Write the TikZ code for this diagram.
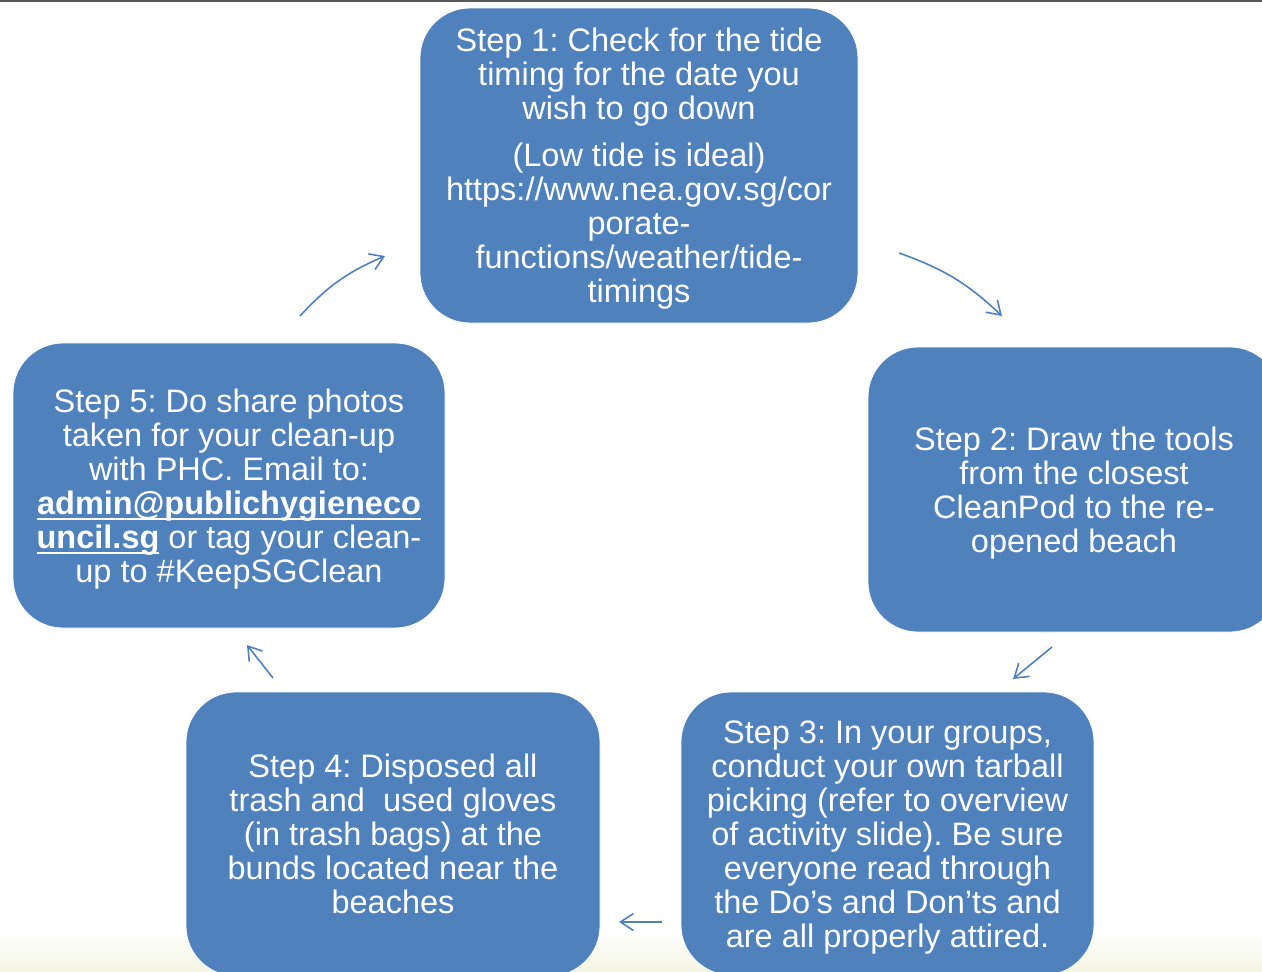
\documentclass[tikz,border=0pt]{standalone}
\usepackage{fontspec}
\setmainfont{Liberation Sans}
\usetikzlibrary{arrows.meta}
\definecolor{stepblue}{RGB}{79,129,189}
\definecolor{slidefoot}{RGB}{244,246,226}
\newcommand{\mailul}[1]{\setbox0=\hbox{#1}\leavevmode\rlap{\rule[-6pt]{\wd0}{2.2pt}}\box0\relax}
\newcommand{\topstrut}{\rule{0pt}{30pt}}
\frenchspacing

\begin{document}
\begin{tikzpicture}[x=1pt,y=-1pt]
    \tikzstyle{stepbox}=[fill=stepblue,draw=white,line width=0.8pt,rounded corners=50pt,text=white,align=center,inner sep=0pt,
        font=\fontsize{32.5}{34}\selectfont,execute at end node={\rule[-7pt]{0pt}{7pt}}]
    \tikzstyle{fwd}=[draw=stepblue,line width=1.6pt,-{Straight Barb[length=13pt,width=17pt]}]

    \useasboundingbox (0,0) rectangle (1262,972);
    \shade[top color=white,bottom color=slidefoot] (0,930) rectangle (1262,972);
    \draw[gray!70!black,line width=1.6pt] (0,0.8) -- (1262,0.8);

    \node[stepbox,minimum width=438pt,minimum height=315pt] (s1) at (639,165.5)
        {\topstrut Step 1: Check for the tide\\ timing for the date you\\ wish to go down\\[13pt]
         (Low tide is ideal)\\ https://www.nea.gov.sg/cor\\ porate-\\ functions/weather/tide-\\ timings};
    \node[stepbox,minimum width=412pt,minimum height=285pt] (s2) at (1074,489.5)
        {\topstrut Step 2: Draw the tools\\ from the closest\\ CleanPod to the re-\\ opened beach};
    \node[stepbox,minimum width=413pt,minimum height=283pt] (s3) at (887.5,833.5)
        {\topstrut Step 3: In your groups,\\ conduct your own tarball\\ picking (refer to overview\\ of activity slide). Be sure\\ everyone read through\\ the Do’s and Don’ts and\\ are all properly attired.};
    \node[stepbox,minimum width=414pt,minimum height=284pt] (s4) at (393,834)
        {\topstrut Step 4: Disposed all\\ trash and~ used gloves\\ (in trash bags) at the\\ bunds located near the\\ beaches};
    \node[stepbox,minimum width=432pt,minimum height=285pt] (s5) at (229,485.5)
        {\topstrut Step 5: Do share photos\\ taken for your clean-up\\ with PHC. Email to:\\ \mailul{\textbf{admin@publichygieneco}}\\ \mailul{\textbf{uncil.sg}} or tag your clean-\\ up to \#KeepSGClean};

    % arrow ends
    \coordinate (a1s) at (300,316);
    \coordinate (a1e) at (385,256);
    \coordinate (a2s) at (899,253);
    \coordinate (a2e) at (1002,316);
    \coordinate (a3s) at (1052,647);
    \coordinate (a3e) at (1013,679);
    \coordinate (a4s) at (662,922);
    \coordinate (a4e) at (619,922);
    \coordinate (a5s) at (273,678);
    \coordinate (a5e) at (247,645);

   \draw [fwd] (a1s) to[bend left=12] (a1e);
   \draw [fwd] (a2s) to[bend left=12] (a2e);
   \draw [fwd] (a3s) -- (a3e);
   \draw [fwd] (a4s) -- (a4e);
   \draw [fwd] (a5s) -- (a5e);

\end{tikzpicture}
\end{document}
